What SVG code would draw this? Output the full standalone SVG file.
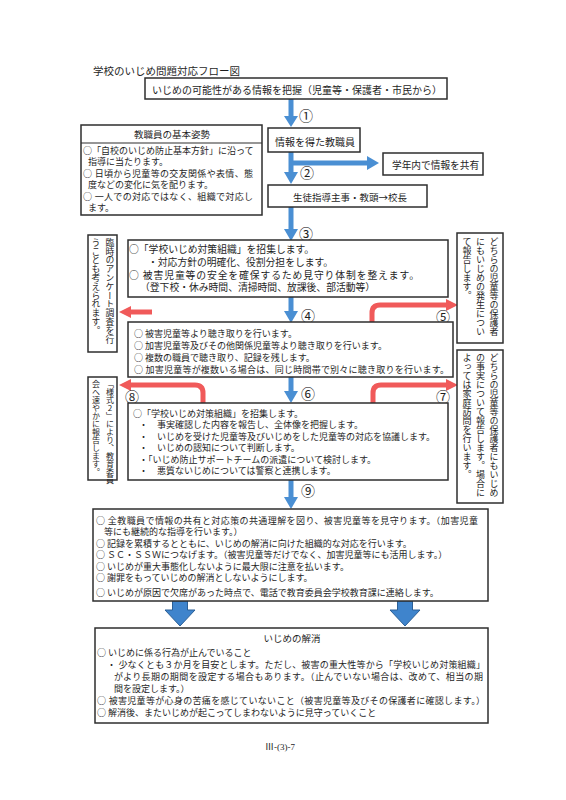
<svg xmlns="http://www.w3.org/2000/svg" width="566" height="800" viewBox="0 0 566 800">
<style>
.bg{fill:#fff}
.box{fill:#fff;stroke:#2e2e2e;stroke-width:1.5}
.t{font-family:"Noto Sans CJK JP","Noto Sans",sans-serif;font-size:9px;fill:#1e1e1e;dominant-baseline:central}
.b1{font-size:9.8px}
.m{text-anchor:middle}
.v{font-family:"Noto Sans CJK JP",sans-serif;font-size:9px;fill:#1e1e1e;writing-mode:vertical-rl}
.num{font-family:"Noto Sans CJK JP",sans-serif;font-size:14px;fill:#1e1e1e;dominant-baseline:central;text-anchor:middle}
.blue{fill:#4a8fd3}
.fat{fill:#3f84cc;stroke:#2b5f96;stroke-width:1}
.red{fill:none;stroke:#f05a5a;stroke-width:5}
.redh{fill:#f05a5a}
</style>
<rect class="bg" x="0" y="0" width="566" height="800"/>
<text class="t" x="93" y="70" style="font-size:10.5px">学校のいじめ問題対応フロー図</text>

<g id="connectors">
  <rect class="blue" x="288.5" y="99" width="5" height="17"/>
  <polygon class="blue" points="284,116 298,116 291,127"/>
  <rect class="blue" x="288.5" y="152" width="5" height="20"/>
  <polygon class="blue" points="284,172 298,172 291,184"/>
  <rect class="blue" x="291" y="160.5" width="76" height="5"/>
  <polygon class="blue" points="367,156 367,170 379,163"/>
  <rect class="blue" x="288.5" y="207" width="5" height="22"/>
  <polygon class="blue" points="284,229 298,229 291,241"/>
  <rect class="blue" x="288.5" y="297" width="5" height="14"/>
  <polygon class="blue" points="284,311 298,311 291,323"/>
  <rect class="blue" x="288.5" y="377" width="5" height="14"/>
  <polygon class="blue" points="284,391 298,391 291,403"/>
  <rect class="blue" x="288.5" y="480" width="5" height="17"/>
  <polygon class="blue" points="284,497 298,497 291,509"/>
  <polygon class="fat" points="172.5,601 187.5,601 187.5,610 195,610 180,626 165,610 172.5,610"/>
  <polygon class="fat" points="397.5,601 412.5,601 412.5,610 420,610 405,626 390,610 397.5,610"/>
  <line class="red" x1="152" y1="312" x2="130" y2="312"/>
  <polygon class="redh" points="131,306 131,318 119,312"/>
  <path class="red" d="M372,322 V313 Q372,305 380,305 H447"/>
  <polygon class="redh" points="446,299 446,311 458,305"/>
  <path class="red" d="M373,403 V393 Q373,385 381,385 H447"/>
  <polygon class="redh" points="446,379 446,391 458,385"/>
  <path class="red" d="M203,403 V393 Q203,385 195,385 H130"/>
  <polygon class="redh" points="131,379 131,391 119,385"/>
  <text class="num" x="306" y="115">①</text>
  <text class="num" x="307" y="172">②</text>
  <text class="num" x="306" y="233">③</text>
  <text class="num" x="308" y="315">④</text>
  <text class="num" x="443" y="316">⑤</text>
  <text class="num" x="308" y="393">⑥</text>
  <text class="num" x="443" y="396">⑦</text>
  <text class="num" x="132" y="396">⑧</text>
  <text class="num" x="308" y="490">⑨</text>
</g>

<g id="n-info">
  <rect class="box" x="145" y="78" width="302" height="21"/>
  <text class="t" x="152" y="89" style="font-size:10px">いじめの可能性がある情報を把握（児童等・保護者・市民から）</text>
</g>

<g id="n-basic">
  <rect class="box" x="81" y="125" width="181" height="90"/>
  <line x1="81" y1="143" x2="262" y2="143" stroke="#2e2e2e" stroke-width="1.2"/>
  <text class="t m" x="172" y="134" style="font-size:9.5px">教職員の基本姿勢</text>
  <text class="t" x="83" y="150">○「自校のいじめ防止基本方針」に沿って</text>
  <text class="t" x="88" y="161.5">指導に当たります。</text>
  <text class="t" x="83" y="173" textLength="170">○ 日頃から児童等の交友関係や表情、態</text>
  <text class="t" x="88" y="184.5">度などの変化に気を配ります。</text>
  <text class="t" x="83" y="196" textLength="170">○ 一人での対応ではなく、組織で対応し</text>
  <text class="t" x="88" y="207.5">ます。</text>
</g>

<g id="n-staff">
  <rect class="box" x="268" y="128" width="92" height="24"/>
  <text class="t" x="275" y="141" style="font-size:10px">情報を得た教職員</text>
</g>

<g id="n-grade">
  <rect class="box" x="383" y="153" width="100" height="22"/>
  <text class="t" x="392" y="165" style="font-size:9.7px">学年内で情報を共有</text>
</g>

<g id="n-principal">
  <rect class="box" x="268" y="185" width="159" height="22"/>
  <text class="t m" x="350" y="197" style="font-size:9.5px">生徒指導主事・教頭→校長</text>
</g>

<g id="n-survey">
  <rect class="box" x="88" y="235" width="29" height="117"/>
  <text class="v" x="110" y="238" style="font-size:8.8px">臨時のアンケート調査を行</text>
  <text class="v" x="96" y="238" style="font-size:8.8px">うことも考えられます。</text>
</g>

<g id="n-org1">
  <rect class="box" x="128" y="240" width="320" height="57"/>
  <text class="t b1" x="129" y="249">○「学校いじめ対策組織」を招集します。</text>
  <text class="t b1" x="148" y="261.5">・対応方針の明確化、役割分担をします。</text>
  <text class="t b1" x="129" y="274.5" textLength="290">○ 被害児童等の安全を確保するため見守り体制を整えます。</text>
  <text class="t b1" x="140" y="287">（登下校・休み時間、清掃時間、放課後、部活動等）</text>
</g>

<g id="n-hearing">
  <rect class="box" x="128" y="322" width="325" height="55"/>
  <text class="t" x="134" y="333">○ 被害児童等より聴き取りを行います。</text>
  <text class="t" x="134" y="345">○ 加害児童等及びその他関係児童等より聴き取りを行います。</text>
  <text class="t" x="134" y="357">○ 複数の職員で聴き取り、記録を残します。</text>
  <text class="t" x="134" y="369" textLength="315">○ 加害児童等が複数いる場合は、同じ時間帯で別々に聴き取りを行います。</text>
</g>

<g id="n-notify1">
  <rect class="box" x="457" y="233" width="46" height="110"/>
  <text class="v" x="494" y="237">どちらの児童等の保護者</text>
  <text class="v" x="480.5" y="237">にもいじめの発生につい</text>
  <text class="v" x="467" y="237">て報告します。</text>
</g>

<g id="n-report">
  <rect class="box" x="88" y="377" width="29" height="103"/>
  <text class="v" x="110" y="380" style="font-size:8px;text-orientation:upright">「様式2」により、教育委員</text>
  <text class="v" x="96" y="380" style="font-size:8px">会へ速やかに報告します。</text>
</g>

<g id="n-notify2">
  <rect class="box" x="457" y="350" width="46" height="153"/>
  <text class="v" x="494" y="353">どちらの児童等の保護者にもいじめ</text>
  <text class="v" x="480.5" y="353">の事実について報告します。場合に</text>
  <text class="v" x="467" y="353">よっては家庭訪問を行います。</text>
</g>

<g id="n-org2">
  <rect class="box" x="128" y="403" width="320" height="77"/>
  <text class="t" x="133" y="413">○「学校いじめ対策組織」を招集します。</text>
  <text class="t" x="139" y="424.5">・　事実確認した内容を報告し、全体像を把握します。</text>
  <text class="t" x="139" y="436">・　いじめを受けた児童等及びいじめをした児童等の対応を協議します。</text>
  <text class="t" x="139" y="447.5">・　いじめの認知について判断します。</text>
  <text class="t" x="139" y="459">・「いじめ防止サポートチームの派遣について検討します。</text>
  <text class="t" x="139" y="470.5">・　悪質ないじめについては警察と連携します。</text>
</g>

<g id="n-response">
  <rect class="box" x="93" y="509" width="395" height="92"/>
  <text class="t" x="96" y="520" textLength="382">○ 全教職員で情報の共有と対応策の共通理解を図り、被害児童等を見守ります。（加害児童</text>
  <text class="t" x="104" y="531.5">等にも継続的な指導を行います。）</text>
  <text class="t" x="96" y="543">○ 記録を累積するとともに、いじめの解消に向けた組織的な対応を行います。</text>
  <text class="t" x="96" y="554.5">○ ＳＣ・ＳＳＷにつなげます。（被害児童等だけでなく、加害児童等にも活用します。）</text>
  <text class="t" x="96" y="566">○ いじめが重大事態化しないように最大限に注意を払います。</text>
  <text class="t" x="96" y="577.5">○ 謝罪をもっていじめの解消としないようにします。</text>
  <text class="t" x="96" y="592">○ いじめが原因で欠席があった時点で、電話で教育委員会学校教育課に連絡します。</text>
</g>

<g id="n-resolve">
  <rect class="box" x="95" y="628" width="393" height="95"/>
  <text class="t m" x="292" y="638" style="font-size:9.5px">いじめの解消</text>
  <text class="t" x="97" y="652">○ いじめに係る行為が止んでいること</text>
  <text class="t" x="107" y="664.5" textLength="378">・ 少なくとも３か月を目安とします。ただし、被害の重大性等から「学校いじめ対策組織」</text>
  <text class="t" x="114" y="676.5" textLength="369">がより長期の期間を設定する場合もあります。（止んでいない場合は、改めて、相当の期</text>
  <text class="t" x="114" y="688">間を設定します。）</text>
  <text class="t" x="97" y="700" textLength="388">○ 被害児童等が心身の苦痛を感じていないこと（被害児童等及びその保護者に確認します。）</text>
  <text class="t" x="97" y="712">○ 解消後、またいじめが起こってしまわないように見守っていくこと</text>
</g>

<text class="t" x="265" y="747" style="font-family:'Liberation Serif','Noto Sans CJK JP',serif;font-size:9px">Ⅲ-(3)-7</text>
</svg>
